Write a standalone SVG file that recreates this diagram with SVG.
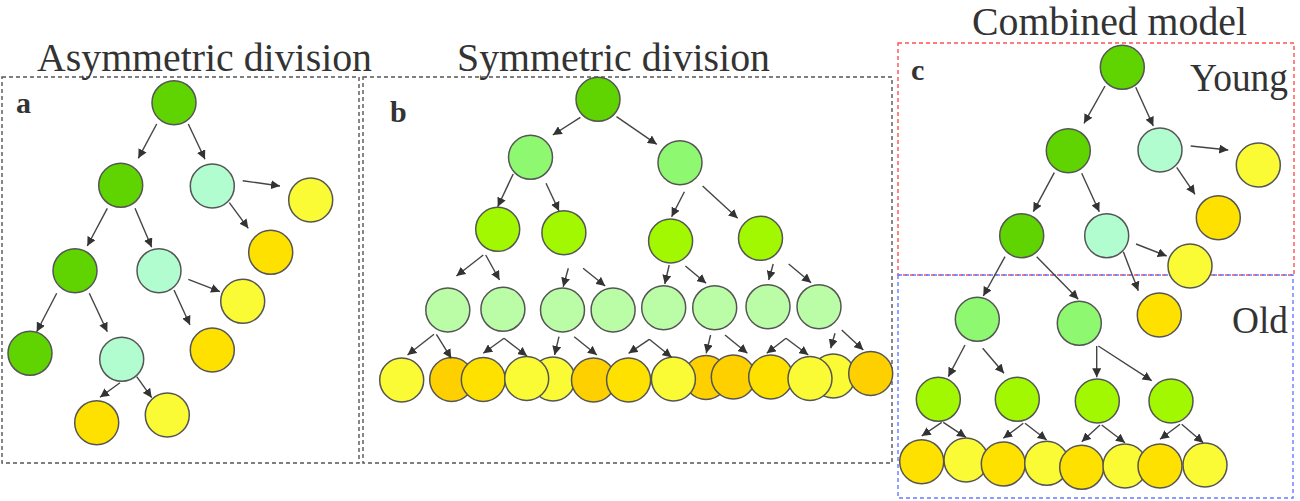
<svg xmlns="http://www.w3.org/2000/svg" width="1300" height="501" viewBox="0 0 1300 501">
<style>
text{font-family:"Liberation Serif","Times New Roman",serif;fill:#333}
.t{font-size:40px}
.lb{font-size:30px;font-weight:bold}
circle{stroke:#555;stroke-width:1.5}
.dg{fill:#60D400}.mi{fill:#B2FDD0}.lg{fill:#8EF870}.yg{fill:#A2F800}.pg{fill:#BBFCA6}
.ye{fill:#FAFA35}.go{fill:#FFE100}.or{fill:#FFD000}
.box{fill:none;stroke-width:1.4;stroke-dasharray:4 3}
#connectors line{stroke:#444;stroke-width:1.4;marker-end:url(#ah)}
</style>
<defs>
<marker id="ah" viewBox="0 0 10 10" refX="10" refY="5" markerWidth="9" markerHeight="9" markerUnits="userSpaceOnUse" orient="auto"><path d="M0,0 L10,5 L0,10 z" fill="#333"/></marker>
</defs>
<rect width="1300" height="501" fill="#fff"/>
<g id="frames">
<rect class="box" x="2" y="77" width="357" height="386" stroke="#555"/>
<rect class="box" x="363" y="77" width="529" height="386" stroke="#555"/>
<rect class="box" x="898" y="43" width="396" height="232" stroke="#FF5050"/>
<rect class="box" x="898" y="275" width="395" height="223" stroke="#6A7BFF"/>
</g>
<g id="titles">
<text class="t" x="37" y="71" textLength="335" lengthAdjust="spacingAndGlyphs">Asymmetric division</text>
<text class="t" x="457" y="71" textLength="313" lengthAdjust="spacingAndGlyphs">Symmetric division</text>
<text class="t" x="972" y="35" textLength="275" lengthAdjust="spacingAndGlyphs">Combined model</text>
<text class="t" x="1190" y="91" textLength="98" lengthAdjust="spacingAndGlyphs">Young</text>
<text class="t" x="1232" y="333" font-size="38" style="font-size:38px" textLength="56" lengthAdjust="spacingAndGlyphs">Old</text>
<text class="lb" x="16" y="113">a</text>
<text class="lb" x="390" y="122">b</text>
<text class="lb" x="911" y="80">c</text>
</g>
<g id="panel-a">
<g id="a1"><circle class="dg" cx="174" cy="102.7" r="22"/></g>
<g id="a2"><circle class="dg" cx="120.7" cy="185.3" r="22"/></g>
<g id="a3"><circle class="mi" cx="212.3" cy="186" r="22"/></g>
<g id="a4"><circle class="ye" cx="310.7" cy="200" r="22"/></g>
<g id="a5"><circle class="go" cx="270.7" cy="252.3" r="22"/></g>
<g id="a6"><circle class="dg" cx="75" cy="270.7" r="22"/></g>
<g id="a7"><circle class="mi" cx="159" cy="270.7" r="22"/></g>
<g id="a8"><circle class="ye" cx="242.7" cy="301.3" r="22"/></g>
<g id="a9"><circle class="go" cx="212.3" cy="350" r="22"/></g>
<g id="a10"><circle class="dg" cx="30" cy="353.3" r="22"/></g>
<g id="a11"><circle class="mi" cx="121.7" cy="359.3" r="22"/></g>
<g id="a12"><circle class="go" cx="96.7" cy="422.7" r="22"/></g>
<g id="a13"><circle class="ye" cx="167.3" cy="415" r="22"/></g>
</g>
<g id="panel-b">
<g id="b1"><circle class="dg" cx="598" cy="99.3" r="22"/></g>
<g id="b2"><circle class="lg" cx="530.5" cy="157.3" r="22"/></g>
<g id="b3"><circle class="lg" cx="680" cy="162.7" r="22"/></g>
<g id="b4"><circle class="yg" cx="497.7" cy="229.3" r="22"/></g>
<g id="b5"><circle class="yg" cx="563.9" cy="232.7" r="22"/></g>
<g id="b6"><circle class="yg" cx="670.6" cy="241" r="22"/></g>
<g id="b7"><circle class="yg" cx="760.5" cy="238.3" r="22"/></g>
<g id="b8"><circle class="pg" cx="447.8" cy="310" r="22"/></g>
<g id="b9"><circle class="pg" cx="502.9" cy="309.3" r="22"/></g>
<g id="b10"><circle class="pg" cx="562.5" cy="310" r="22"/></g>
<g id="b11"><circle class="pg" cx="613.1" cy="310" r="22"/></g>
<g id="b12"><circle class="pg" cx="663.7" cy="307.7" r="22"/></g>
<g id="b13"><circle class="pg" cx="714.7" cy="307.7" r="22"/></g>
<g id="b14"><circle class="pg" cx="768" cy="306.7" r="22"/></g>
<g id="b15"><circle class="pg" cx="819" cy="306.7" r="22"/></g>
<g id="b16"><circle class="ye" cx="401.7" cy="380" r="22"/></g>
<g id="b17"><circle class="or" cx="451.7" cy="379.5" r="22"/></g>
<g id="b18"><circle class="go" cx="483.3" cy="379.5" r="22"/></g>
<g id="b20"><circle class="ye" cx="553" cy="379" r="22"/></g>
<g id="b19"><circle class="ye" cx="526.7" cy="378.5" r="22"/></g>
<g id="b21"><circle class="or" cx="593.5" cy="380" r="22"/></g>
<g id="b22"><circle class="go" cx="628.6" cy="380" r="22"/></g>
<g id="b24"><circle class="or" cx="706" cy="377.5" r="22"/></g>
<g id="b23"><circle class="ye" cx="673.4" cy="379" r="22"/></g>
<g id="b25"><circle class="or" cx="733.3" cy="377" r="22"/></g>
<g id="b26"><circle class="go" cx="770.7" cy="377" r="22"/></g>
<g id="b28"><circle class="ye" cx="833.3" cy="376" r="22"/></g>
<g id="b27"><circle class="ye" cx="810" cy="378.5" r="22"/></g>
<g id="b29"><circle class="or" cx="870.7" cy="373.5" r="22"/></g>
</g>
<g id="panel-c">
<g id="c1"><circle class="dg" cx="1122.3" cy="67.3" r="22"/></g>
<g id="c2"><circle class="dg" cx="1068.3" cy="150.7" r="22"/></g>
<g id="c3"><circle class="mi" cx="1160" cy="150" r="22"/></g>
<g id="c4"><circle class="ye" cx="1258.3" cy="165" r="22"/></g>
<g id="c5"><circle class="go" cx="1218.3" cy="217.7" r="22"/></g>
<g id="c6"><circle class="dg" cx="1021.7" cy="235.7" r="22"/></g>
<g id="c7"><circle class="mi" cx="1106.7" cy="235.7" r="22"/></g>
<g id="c8"><circle class="ye" cx="1190" cy="266" r="22"/></g>
<g id="c9"><circle class="go" cx="1159.3" cy="315" r="22"/></g>
<g id="c10"><circle class="lg" cx="977.3" cy="319.3" r="22"/></g>
<g id="c11"><circle class="lg" cx="1079.3" cy="323.3" r="22"/></g>
<g id="c12"><circle class="yg" cx="938.3" cy="399.3" r="22"/></g>
<g id="c13"><circle class="yg" cx="1017.3" cy="399.3" r="22"/></g>
<g id="c14"><circle class="yg" cx="1097.3" cy="401" r="22"/></g>
<g id="c15"><circle class="yg" cx="1171" cy="401" r="22"/></g>
<g id="c16"><circle class="go" cx="921.7" cy="461.7" r="22"/></g>
<g id="c17"><circle class="ye" cx="966" cy="460" r="22"/></g>
<g id="c18"><circle class="go" cx="1003.3" cy="464" r="22"/></g>
<g id="c19"><circle class="ye" cx="1046.7" cy="463.3" r="22"/></g>
<g id="c20"><circle class="go" cx="1081.7" cy="467.3" r="22"/></g>
<g id="c21"><circle class="ye" cx="1125" cy="466" r="22"/></g>
<g id="c22"><circle class="go" cx="1160" cy="466" r="22"/></g>
<g id="c23"><circle class="ye" cx="1205" cy="465" r="22"/></g>
</g>
<g id="connectors">
<line x1="156.7" y1="124" x2="138.3" y2="158.3"/>
<line x1="188.3" y1="124" x2="205" y2="159.3"/>
<line x1="242.7" y1="180.7" x2="280" y2="186"/>
<line x1="229.3" y1="202.7" x2="248.3" y2="228.3"/>
<line x1="107.3" y1="208.3" x2="87.3" y2="246"/>
<line x1="135" y1="208.3" x2="151.7" y2="247.3"/>
<line x1="188.3" y1="279.3" x2="220" y2="291.7"/>
<line x1="174" y1="290" x2="190" y2="325"/>
<line x1="56.7" y1="293.3" x2="36.7" y2="331.7"/>
<line x1="89.3" y1="293.3" x2="107.3" y2="331.7"/>
<line x1="120" y1="382.7" x2="100" y2="397.3"/>
<line x1="136.7" y1="376.7" x2="151.7" y2="397.7"/>

<line x1="580.4" y1="117.3" x2="552.8" y2="135"/>
<line x1="616.5" y1="116.7" x2="656.8" y2="144.3"/>
<line x1="513.2" y1="174" x2="497.7" y2="206.7"/>
<line x1="546" y1="183.3" x2="559" y2="211"/>
<line x1="684.4" y1="191.7" x2="671.6" y2="216.7"/>
<line x1="702.6" y1="186" x2="737.7" y2="218.3"/>
<line x1="483.3" y1="255" x2="456.4" y2="276"/>
<line x1="485.7" y1="255" x2="499.5" y2="280"/>
<line x1="568.3" y1="268.3" x2="563.2" y2="286.7"/>
<line x1="583.1" y1="268.3" x2="605.2" y2="286"/>
<line x1="669.2" y1="265" x2="664.8" y2="284"/>
<line x1="685.4" y1="266" x2="706.1" y2="283.3"/>
<line x1="773.2" y1="264" x2="768.7" y2="280"/>
<line x1="788.7" y1="264" x2="811.1" y2="282.7"/>
<line x1="434" y1="334.3" x2="407.5" y2="355"/>
<line x1="436.4" y1="334.3" x2="451.3" y2="358.3"/>
<line x1="504" y1="338.3" x2="483.3" y2="353.3"/>
<line x1="504" y1="338.3" x2="527" y2="356"/>
<line x1="559" y1="336.7" x2="554.6" y2="355"/>
<line x1="574.2" y1="336.7" x2="596.9" y2="355"/>
<line x1="649.3" y1="339.3" x2="628.6" y2="353.3"/>
<line x1="649.3" y1="339.3" x2="671.6" y2="357.3"/>
<line x1="710.6" y1="335" x2="706.2" y2="353.3"/>
<line x1="725" y1="335" x2="747.4" y2="353.3"/>
<line x1="786" y1="338.3" x2="766.7" y2="353.3"/>
<line x1="786" y1="338.3" x2="808.3" y2="355"/>
<line x1="835" y1="333.3" x2="830.7" y2="348.3"/>
<line x1="841.7" y1="330" x2="863.3" y2="350"/>

<line x1="1105" y1="86" x2="1084" y2="123.3"/>
<line x1="1135.7" y1="87.3" x2="1153.3" y2="126"/>
<line x1="1190.7" y1="146" x2="1228.3" y2="150"/>
<line x1="1176.7" y1="167.3" x2="1195" y2="194.3"/>
<line x1="1054.3" y1="172.7" x2="1033.3" y2="211.7"/>
<line x1="1081.7" y1="173.3" x2="1099.3" y2="211.7"/>
<line x1="1136" y1="244" x2="1166.7" y2="256"/>
<line x1="1123.3" y1="251.7" x2="1138.3" y2="290.7"/>
<line x1="1005" y1="256.7" x2="983.3" y2="296"/>
<line x1="1036.7" y1="256.7" x2="1078.3" y2="299.3"/>
<line x1="965" y1="345" x2="948.3" y2="376.7"/>
<line x1="982.7" y1="348.3" x2="1004" y2="373.3"/>
<line x1="1096.7" y1="346" x2="1096.7" y2="377.3"/>
<line x1="1098.3" y1="346" x2="1151.7" y2="380.7"/>
<line x1="941.7" y1="422.3" x2="921.7" y2="436"/>
<line x1="943.3" y1="422.3" x2="966" y2="437.3"/>
<line x1="1023.3" y1="423.3" x2="1003.3" y2="438.3"/>
<line x1="1025" y1="423.3" x2="1046.7" y2="440"/>
<line x1="1100" y1="425" x2="1081.7" y2="441.7"/>
<line x1="1101.7" y1="425" x2="1125" y2="442.7"/>
<line x1="1180" y1="424.3" x2="1160" y2="439.3"/>
<line x1="1181.7" y1="424.3" x2="1203.3" y2="442.7"/>
</g>
</svg>
